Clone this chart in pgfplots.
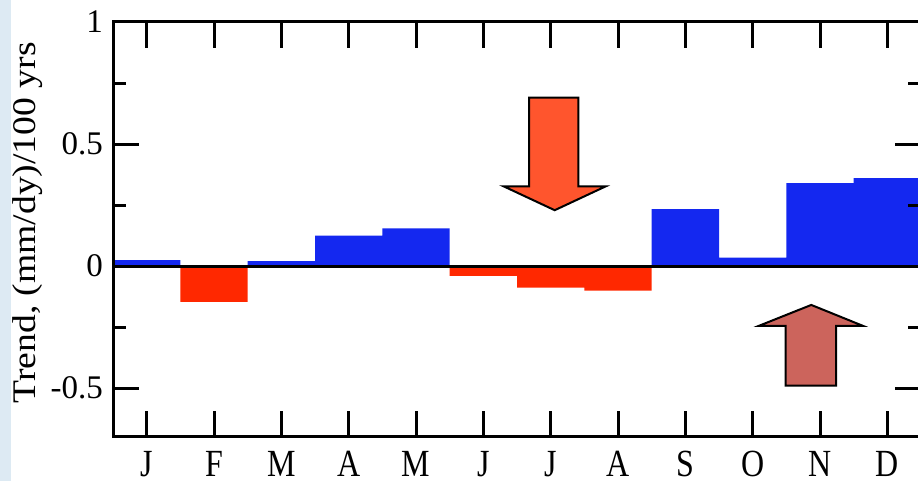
\documentclass[border=0pt]{standalone}
\usepackage{fontspec}
\setmainfont{Liberation Serif}
\usepackage{pgfplots}
\pgfplotsset{compat=1.18}
\definecolor{barblue}{RGB}{20,40,240}
\definecolor{barred}{RGB}{255,40,0}
\definecolor{arrowdown}{RGB}{255,85,45}
\definecolor{arrowup}{RGB}{204,100,92}
\definecolor{stripblue}{RGB}{221,234,243}
\begin{document}
\begin{tikzpicture}[x=1pt,y=1pt]
\useasboundingbox (0,0) rectangle (918,481);
\fill[white] (0,0) rectangle (918,481);
\fill[stripblue] (0,0) rectangle (11,481);
\begin{axis}[
  at={(113pt,44pt)}, anchor=south west,
  scale only axis, width=808pt, height=415pt,
  xmin=-0.5, xmax=11.5, ymin=-0.7, ymax=1,
  axis on top,
  axis line style={line width=3pt, black},
  xtick={0,...,11},
  xticklabels={J,F,M,A,M,J,J,A,S,O,N,D},
  ytick={-0.5,0,0.5,1},
  yticklabels={-0.5,0,0.5,1},
  minor ytick={-0.25,0.25,0.75},
  tick align=inside,
  major tick length=26pt,
  minor tick length=13pt,
  every tick/.style={black, line width=3pt},
  xticklabel style={font=\fontsize{32}{38}\selectfont, anchor=base, inner sep=0pt, yshift=-40pt, yscale=1.2},
  yticklabel style={font=\fontsize{33}{40}\selectfont, anchor=east, inner sep=0pt, xshift=-10pt},
  ylabel={Trend, (mm/dy)/100 yrs},
  ylabel style={at={(axis description cs:-0.0965,0.516)}, anchor=base, font=\fontsize{33}{40}\selectfont, xscale=1.14},
]
\addplot[ybar, bar width=1, bar shift=0pt, fill=barblue, draw=none]
  coordinates {(0,0.025) (2,0.02) (3,0.125) (4,0.155) (8,0.233) (9,0.035) (10,0.34) (11,0.36)};
\addplot[ybar, bar width=1, bar shift=0pt, fill=barred, draw=none]
  coordinates {(1,-0.147) (5,-0.04) (6,-0.088) (7,-0.10)};
\addplot[black, line width=3pt] coordinates {(-0.5,0) (11.5,0)};
\path[fill=arrowdown, draw=black, line width=2pt, line join=miter]
  (axis cs:5.68,0.69) -- (axis cs:6.41,0.69) -- (axis cs:6.41,0.327) -- (axis cs:6.82,0.327)
  -- (axis cs:6.06,0.229) -- (axis cs:5.30,0.327) -- (axis cs:5.68,0.327) -- cycle;
\path[fill=arrowup, draw=black, line width=2pt, line join=miter]
  (axis cs:9.49,-0.49) -- (axis cs:10.24,-0.49) -- (axis cs:10.24,-0.245) -- (axis cs:10.64,-0.245)
  -- (axis cs:9.87,-0.159) -- (axis cs:9.09,-0.245) -- (axis cs:9.49,-0.245) -- cycle;
\end{axis}
\end{tikzpicture}
\end{document}
